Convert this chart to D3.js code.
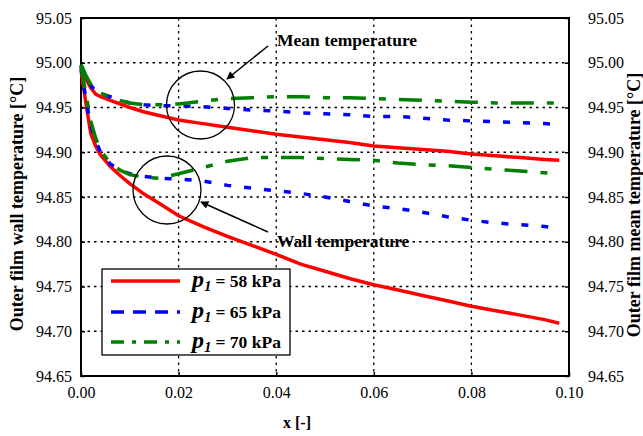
<!DOCTYPE html>
<html><head><meta charset="utf-8">
<script src="https://cdn.jsdelivr.net/npm/d3@7"></script>
<style>body{margin:0;background:#fff}svg{display:block}text{font-family:"Liberation Serif","Times New Roman",serif}</style>
</head><body>
<script>
const xs = [0,0.001,0.002,0.003,0.004,0.006,0.008,0.010,0.013,0.016,0.020,0.025,0.030,0.035,0.040,0.045,0.050,0.055,0.060,0.065,0.070,0.075,0.080,0.085,0.090,0.095,0.098];
const wall58 = [94.992,94.955,94.921,94.907,94.897,94.884,94.874,94.865,94.853,94.843,94.829,94.817,94.806,94.796,94.786,94.775,94.767,94.759,94.752,94.746,94.740,94.734,94.728,94.723,94.718,94.713,94.709];
const wall65 = [94.995,94.960,94.930,94.913,94.900,94.887,94.880,94.876,94.873,94.871,94.870,94.868,94.863,94.860,94.857,94.854,94.850,94.845,94.840,94.837,94.833,94.828,94.824,94.821,94.819,94.817,94.815];
const wall70 = [94.997,94.965,94.935,94.916,94.902,94.888,94.880,94.875,94.872,94.871,94.876,94.883,94.890,94.894,94.894,94.894,94.893,94.892,94.891,94.888,94.886,94.885,94.883,94.881,94.879,94.877,94.876];
const mean58 = [94.992,94.982,94.972,94.965,94.962,94.958,94.954,94.950,94.945,94.941,94.936,94.932,94.928,94.924,94.920,94.917,94.914,94.911,94.907,94.905,94.903,94.901,94.898,94.896,94.894,94.892,94.891];
const mean65 = [94.997,94.985,94.975,94.968,94.965,94.962,94.958,94.955,94.953,94.952,94.952,94.951,94.949,94.947,94.946,94.944,94.943,94.942,94.940,94.940,94.938,94.936,94.935,94.934,94.933,94.932,94.931];
const mean70 = [94.998,94.986,94.976,94.969,94.966,94.962,94.958,94.955,94.953,94.953,94.954,94.957,94.960,94.961,94.962,94.962,94.961,94.961,94.960,94.959,94.958,94.957,94.956,94.955,94.955,94.955,94.955];
const pressures = ["58 kPa","65 kPa","70 kPa"];
const xTicks = [0,0.02,0.04,0.06,0.08,0.10];
const yTicks = [94.65,94.70,94.75,94.80,94.85,94.90,94.95,95.00,95.05];

const W=643,H=436;
const L=81,R=569,T=18,B=376;
const svg=d3.select("body").append("svg").attr("width",W).attr("height",H);
const x=d3.scaleLinear().domain([0,0.1]).range([L,R]);
const y=d3.scaleLinear().domain([94.65,95.05]).range([B,T]);

// grid
svg.append("g").selectAll("line").data(yTicks.slice(1,-1)).join("line")
  .attr("x1",L).attr("x2",R).attr("y1",d=>y(d)).attr("y2",d=>y(d))
  .attr("stroke","#000").attr("stroke-width",1.3).attr("stroke-dasharray","2.5,4");
svg.append("g").selectAll("line").data(xTicks.slice(1,-1)).join("line")
  .attr("y1",T).attr("y2",B).attr("x1",d=>x(d)).attr("x2",d=>x(d))
  .attr("stroke","#000").attr("stroke-width",1.3).attr("stroke-dasharray","2.5,4");

// axes
const fmt=d3.format(".2f");
const axL=svg.append("g").attr("transform",`translate(${L},0)`).call(d3.axisLeft(y).tickValues(yTicks).tickFormat(fmt).tickSize(-4).tickPadding(9));
const axR=svg.append("g").attr("transform",`translate(${R},0)`).call(d3.axisRight(y).tickValues(yTicks).tickFormat(fmt).tickSize(-4).tickPadding(19));
const axB=svg.append("g").attr("transform",`translate(0,${B})`).call(d3.axisBottom(x).tickValues(xTicks).tickFormat(fmt).tickSize(-4).tickPadding(11));
[axL,axR,axB].forEach(a=>{a.select(".domain").remove();a.selectAll("text").attr("font-size",16).attr("fill","#000").style("font-family","'Liberation Serif',serif");a.selectAll("line").attr("stroke","#000").attr("stroke-width",1.5);});
svg.append("rect").attr("x",L).attr("y",T).attr("width",R-L).attr("height",B-T).attr("fill","none").attr("stroke","#000").attr("stroke-width",2);

// lines
const line=d3.line().x((d,i)=>x(xs[i])).y(d=>y(d));
const styles=[
 {c:"#ff0000",dash:null,ldash:null},
 {c:"#0000ff",dash:"7,13",ldash:"13,9"},
 {c:"#008000",dash:"23,13,7,13",ldash:"13,8,4,8"}
];
const walls=[wall58,wall65,wall70], means=[mean58,mean65,mean70];
[0,1,2].forEach(i=>{
  [walls[i],means[i]].forEach(s=>{
    svg.append("path").attr("d",line(s)).attr("fill","none").attr("stroke",styles[i].c)
      .attr("stroke-width",3.5).attr("stroke-dasharray",styles[i].dash);
  });
});

// annotations
svg.append("defs").append("marker").attr("id","ah").attr("viewBox","0 0 10 10").attr("refX",9).attr("refY",5)
  .attr("markerWidth",10).attr("markerHeight",8).attr("markerUnits","userSpaceOnUse").attr("orient","auto")
  .append("path").attr("d","M0,0L10,5L0,10z").attr("fill","#000");
svg.append("circle").attr("cx",200.5).attr("cy",105).attr("r",34).attr("fill","none").attr("stroke","#000").attr("stroke-width",1.3);
svg.append("circle").attr("cx",167).attr("cy",190).attr("r",34).attr("fill","none").attr("stroke","#000").attr("stroke-width",1.3);
svg.append("line").attr("x1",268).attr("y1",46).attr("x2",227).attr("y2",79).attr("stroke","#000").attr("stroke-width",1.5).attr("marker-end","url(#ah)");
svg.append("line").attr("x1",268).attr("y1",232).attr("x2",201).attr("y2",202).attr("stroke","#000").attr("stroke-width",1.5).attr("marker-end","url(#ah)");
svg.append("text").attr("x",277).attr("y",46).attr("font-size",17.5).attr("font-weight","bold").text("Mean temperature");
svg.append("text").attr("x",277).attr("y",247).attr("font-size",17.5).attr("font-weight","bold").text("Wall temperature");

// axis titles
svg.append("text").attr("transform","translate(23,204) rotate(-90)").attr("text-anchor","middle").attr("font-size",18).attr("font-weight","bold").text("Outer film wall temperature [°C]");
svg.append("text").attr("transform","translate(640,205) rotate(-90)").attr("text-anchor","middle").attr("font-size",18).attr("font-weight","bold").text("Outer film mean temperature [°C]");
svg.append("text").attr("x",297).attr("y",428).attr("text-anchor","middle").attr("font-size",16).attr("font-weight","bold").text("x [-]");

// legend
const lg=svg.append("g");
lg.append("rect").attr("x",102).attr("y",269).attr("width",188).attr("height",86).attr("fill","#fff").attr("stroke","#000").attr("stroke-width",1.3);
const rows=[281,312,342];
pressures.forEach((p,i)=>{
  lg.append("line").attr("x1",111).attr("x2",180).attr("y1",rows[i]).attr("y2",rows[i]).attr("stroke",styles[i].c).attr("stroke-width",3.5).attr("stroke-dasharray",styles[i].ldash);
  const t=lg.append("text").attr("x",192).attr("y",rows[i]+6).attr("font-weight","bold").attr("font-size",17.5);
  t.append("tspan").attr("font-style","italic").attr("font-size",24).text("p");
  t.append("tspan").attr("font-style","italic").attr("font-size",15).attr("dy",4).text("1");
  t.append("tspan").attr("dy",-4).attr("dx",4).text("= "+p);
});
</script>
</body></html>
